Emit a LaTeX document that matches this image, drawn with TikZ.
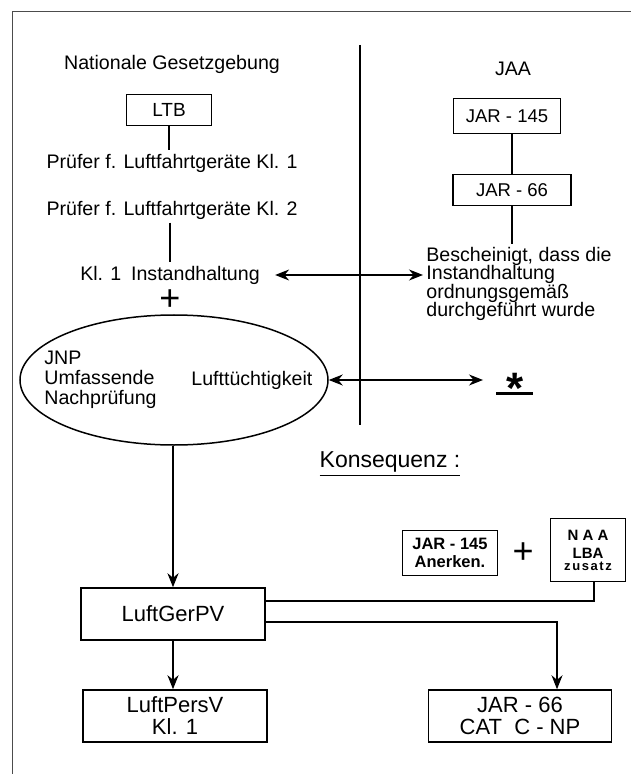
\documentclass[tikz,border=0pt]{standalone}
\usepackage{fontspec}
\setmainfont{Liberation Sans}
\newfontfamily\spacedbold[LetterSpace=12]{Liberation Sans Bold}
\usetikzlibrary{shapes.geometric, arrows.meta, positioning, calc}

\begin{document}
\begin{tikzpicture}[
    x=0.5pt, y=-0.5pt,
    >={Stealth[length=7pt, width=5.5pt]},
    font=\fontsize{9.8}{9.3}\selectfont,
    txt/.style={inner sep=1.5pt, align=center},
    boxnode/.style={rectangle, draw, line width=0.75pt, align=center, inner sep=1pt},
    bignode/.style={boxnode, minimum width=92pt, minimum height=26pt, font=\fontsize{11}{11}\selectfont},
    smallnode/.style={boxnode, font=\bfseries\fontsize{8.25}{9}\selectfont},
    plussign/.style={inner sep=0pt, font=\fontsize{18}{18}\selectfont},
    link/.style={line width=0.6pt},
    flow/.style={->, line width=1pt},
    twoway/.style={<->, line width=0.6pt}
]
\useasboundingbox (0,0) rectangle (631,774);

% Frame and divider
\draw[line width=0.5pt, black!70] (12,774) -- (12,12) -- (631,12);
\draw[line width=0.7pt] (360,45) -- (360,425);

% Headings
\node[txt] (nat) at (172,64) {Nationale Gesetzgebung};
\node[txt] (jaa) at (513,69) {JAA};

% National side
\node[boxnode, minimum width=42.5pt, minimum height=15.5pt, font=\fontsize{9.5}{10}\selectfont] (ltb) at (169,110) {LTB};
\node[txt] (pruef1) at (172,163) {Prüfer f. Luftfahrtgeräte Kl. 1};
\node[txt] (pruef2) at (172,210) {Prüfer f. Luftfahrtgeräte Kl. 2};
\node[txt] (kl1) at (170,275) {Kl. 1\enspace Instandhaltung};
\node[plussign] (plusa) at (170,300) {+};
\node[ellipse, draw, line width=0.75pt, minimum width=154pt, minimum height=65pt, inner sep=0pt] (ell) at (174,380) {};
\node[txt, align=left, anchor=west, font=\fontsize{9.8}{10}\selectfont] (jnp) at (41,380) {JNP\\Umfassende\\Nachprüfung};
\node[txt, anchor=west] (luft) at (188,380) {Lufttüchtigkeit};

\draw[link] (ltb.south) -- (ltb.south |- pruef1.north);
\draw[link] (kl1.north |- pruef2.south) -- (kl1.north);

% JAA side
\node[boxnode, minimum width=53.5pt, minimum height=17.5pt, font=\fontsize{9.25}{10}\selectfont] (jar145) at (507,116) {JAR - 145};
\node[boxnode, minimum width=59pt, minimum height=15.5pt, font=\fontsize{9.25}{10}\selectfont] (jar66) at (512,190) {JAR - 66};
\node[txt, align=left, anchor=west] (besch) at (423,284) {Bescheinigt, dass die\\Instandhaltung\\ordnungsgemäß\\durchgeführt wurde};
\node[inner sep=0pt, anchor=base, font=\bfseries\fontsize{22}{22}\selectfont] (star) at (515,403) {*};
\draw[line width=1.5pt] ($(star.base)+(-19,-10)$) -- ++(37,0);
\coordinate (startip) at ($(star.base)+(-32,0)$);

\draw[link] (jar145.south -| jar66.north) -- (jar66.north);
\draw[link] (jar66.south) -- (jar66.south |- besch.north);

% Cross references
\draw[twoway, shorten <=6pt] (kl1.east) -- (kl1.east -| besch.west);
\draw[twoway] (ell.east) -- (ell.east -| startip);

% Consequence
\node[txt, font=\fontsize{11.5}{12}\selectfont] (kons) at (390,464) {\underline{Konsequenz :}};
\node[smallnode, minimum width=47.5pt, minimum height=22.5pt] (anerk) at (450,553) {JAR - 145\\Anerken.};
\node[plussign] (plusb) at (523,553) {+};
\node[smallnode, minimum width=37.5pt, minimum height=31.5pt] (naa) at (588,550) {\fontsize{7.5}{10}\selectfont N A A\\\fontsize{7.5}{7.5}\selectfont LBA\\[-3pt]\spacedbold\fontsize{6.5}{7}\selectfont zusatz};

\node[bignode] (gerpv) at (173,614) {LuftGerPV};
\node[bignode] (persv) at (175,716) {LuftPersV\\Kl. 1};
\node[bignode, minimum width=91.5pt] (jarcat) at (520,716) {JAR - 66\\CAT\ \ C - NP};

\draw[flow] (gerpv.north |- ell.south) -- (gerpv.north);
\draw[flow] (gerpv.south) -- (gerpv.south |- persv.north);
\draw[link] ([xshift=3pt]naa.south) |- ([yshift=6.5pt]gerpv.east);
\draw[link, ->] ([yshift=-4pt]gerpv.east) -| ([xshift=18.5pt]jarcat.north);

\end{tikzpicture}
\end{document}
